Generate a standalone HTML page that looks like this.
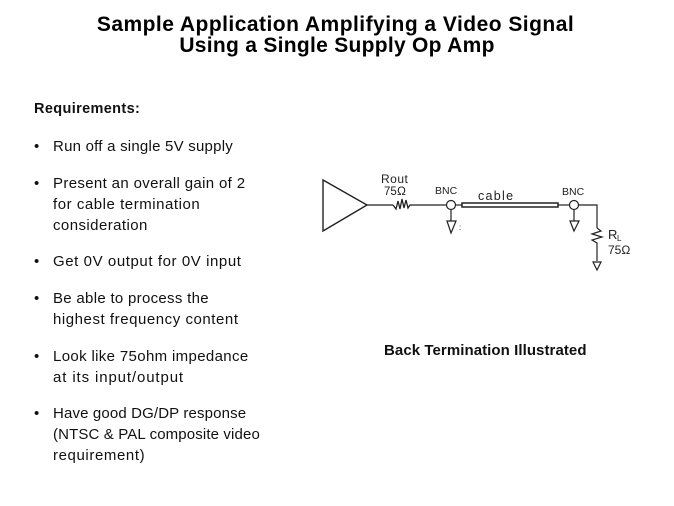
<!DOCTYPE html>
<html>
<head>
<meta charset="utf-8">
<style>
html,body{margin:0;padding:0;background:#fff;}
#p{position:relative;width:674px;height:506px;overflow:hidden;background:#fff;font-family:"Liberation Sans",sans-serif;color:#000;}
.t{position:absolute;white-space:nowrap;font-size:15px;line-height:21px;color:#111;letter-spacing:.35px;}
.h{position:absolute;left:0;width:671px;text-align:center;white-space:nowrap;font-weight:bold;font-size:21px;line-height:23px;letter-spacing:.47px;}
svg{position:absolute;left:0;top:0;}
</style>
</head>
<body>
<div id="p">
<div class="h" style="top:13px">Sample Application Amplifying a Video Signal</div>
<div class="h" style="top:34px;left:1.500px;letter-spacing:.29px">Using a Single Supply Op Amp</div>

<div class="t" style="left:34px;top:99px;font-weight:bold;font-size:14.500px;letter-spacing:.36px">Requirements:</div>

<div class="t" style="left:34px;top:136px">•</div>
<div class="t" style="left:53px;top:136px;letter-spacing:.23px">Run off a single 5V supply</div>

<div class="t" style="left:34px;top:173px">•</div>
<div class="t" style="left:53px;top:173px">Present an overall gain of 2</div>
<div class="t" style="left:53px;top:194px;letter-spacing:.54px">for cable termination</div>
<div class="t" style="left:53px;top:215px;letter-spacing:.43px">consideration</div>

<div class="t" style="left:34px;top:251px">•</div>
<div class="t" style="left:53px;top:251px;letter-spacing:.58px">Get 0V output for 0V input</div>

<div class="t" style="left:34px;top:288px">•</div>
<div class="t" style="left:53px;top:288px;letter-spacing:.3px">Be able to process the</div>
<div class="t" style="left:53px;top:309px;letter-spacing:.55px">highest frequency content</div>

<div class="t" style="left:34px;top:346px">•</div>
<div class="t" style="left:53px;top:346px">Look like 75ohm impedance</div>
<div class="t" style="left:53px;top:367px;letter-spacing:.88px">at its input/output</div>

<div class="t" style="left:34px;top:403px">•</div>
<div class="t" style="left:53px;top:403px;letter-spacing:.14px">Have good DG/DP response</div>
<div class="t" style="left:53px;top:424px;letter-spacing:.13px">(NTSC &amp; PAL composite video</div>
<div class="t" style="left:53px;top:445px;letter-spacing:.6px">requirement)</div>

<div class="t" style="left:384px;top:340px;font-weight:bold;font-size:15px;letter-spacing:.07px">Back Termination Illustrated</div>

<svg width="674" height="506" viewBox="0 0 674 506" fill="none" stroke="#222" stroke-width="1.2">
<path d="M323 180V231L367 205Z" stroke-width="1.4"/>
<path d="M367 205H393"/>
<path d="M393 205L396 209L398 201L400 209L402 199L404 208L406 200L408 208L410 205H446" stroke-width="1.3"/>
<circle cx="451" cy="205" r="4.5"/>
<path d="M455.500 205H462"/>
<rect x="462" y="203" width="96" height="4" stroke-width="1.5"/>
<path d="M558 205H570"/>
<circle cx="574" cy="205" r="4.500"/>
<path d="M578.500 205H597V228"/>
<path d="M597 228L601 231L592 234L602 237L592 240L597 243V261"/>
<path d="M451 210V221"/>
<path d="M447 221H456L451 233Z"/>
<path d="M574 210V221"/>
<path d="M570 221H579L574 231Z"/>
<path d="M593 262H601L597 270Z"/>
<g fill="#222" stroke="none" font-family="Liberation Sans,sans-serif">
<text x="381" y="183" font-size="12" letter-spacing=".5">Rout</text>
<text x="384" y="195" font-size="11.500">75</text>
<text x="397" y="195" font-size="12">Ω</text>
<text x="435" y="194" font-size="10.500">BNC</text>
<text x="478" y="200" font-size="12.500" letter-spacing="1.300">cable</text>
<text x="562" y="195" font-size="10.500">BNC</text>
<text x="608" y="239" font-size="13">R</text>
<text x="617" y="241" font-size="8">L</text>
<text x="608" y="254" font-size="12">75Ω</text>
<text x="459" y="230" font-size="8">:</text>
</g>
</svg>
</div>
</body>
</html>
